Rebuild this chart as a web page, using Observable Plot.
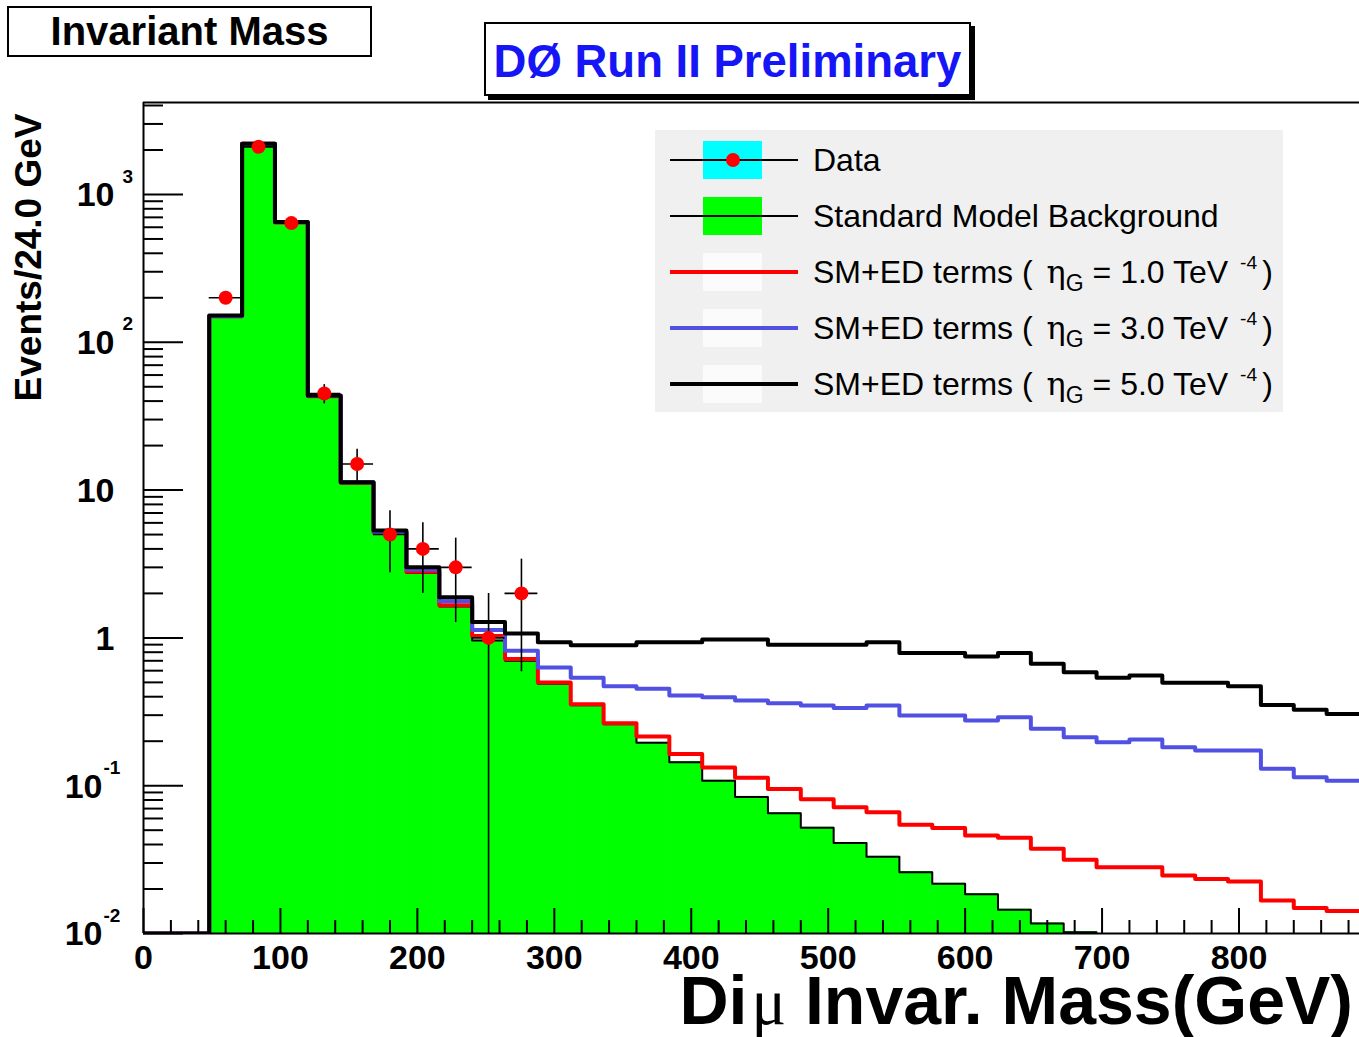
<!DOCTYPE html>
<html>
<head>
<meta charset="utf-8">
<script src="https://cdn.jsdelivr.net/npm/d3@7"></script>
<script src="https://cdn.jsdelivr.net/npm/@observablehq/plot@0.6"></script>
<style>
  body { margin: 0; background: #fff; }
  #wrap { position: relative; width: 1359px; height: 1037px; overflow: hidden; background: #fff;
          font-family: "Liberation Sans", Arial, Helvetica, sans-serif; }
  #plot { position: absolute; left: 0; top: 0; }
  .tbox { position: absolute; background: #fff; border: 2px solid #000; box-sizing: border-box;
          display: flex; align-items: center; justify-content: center; font-weight: bold; white-space: nowrap; }
  #legend { position: absolute; left: 655px; top: 130px; width: 628px; height: 282px; background: #f0f0f0; }
  .lg-box { position: absolute; left: 48px; width: 59px; height: 38px; }
  .lg-line { position: absolute; left: 15px; width: 128px; }
  .lg-dot { position: absolute; left: 71px; width: 14px; height: 14px; border-radius: 50%; background: #ff0000; }
  .lg-text { position: absolute; left: 158px; font-size: 32px; line-height: 32px; white-space: nowrap; color: #000; }
  .lg-text sub { font-size: 0.72em; vertical-align: -0.35em; line-height: 0; }
  .lg-text sup { font-size: 0.6em; vertical-align: 0.75em; line-height: 0; margin-left: 12px; margin-right: 5px; }
  .eta { font-family: "DejaVu Serif", "Liberation Serif", serif; margin-left: 14px; }
  #xlabel { position: absolute; right: 6px; top: 980px; font-size: 68px; line-height: 40px; font-weight: bold; white-space: nowrap; }
  #xlabel .mu { font-family: "Liberation Serif", serif; font-weight: normal; font-size: 0.95em; margin: 0 0 0 4px; }
</style>
</head>
<body>
<div id="wrap">
  <div id="plot"></div>
  <div class="tbox" id="title1" style="left:7px;top:6px;width:365px;height:51px;font-size:40px;"></div>
  <div class="tbox" id="title2" style="left:484px;top:22px;width:487px;height:74px;font-size:45.5px;color:#1515f5;box-shadow:4px 4px 0 #000;padding-top:6px;"></div>
  <div id="legend"></div>
  <div id="xlabel"></div>
</div>
<script>
// ---------------- data ----------------
const binEdges = [0, 24, 48, 72, 96, 120, 144, 168, 192, 216, 240, 264, 288, 312, 336, 360, 384, 408, 432,
                  456, 480, 504, 528, 552, 576, 600, 624, 648, 672, 696, 720, 744, 768, 792, 816, 840, 864, 888];

// Standard Model background (events / 24 GeV), bins from 0 GeV; falls below 1e-2 after 696 GeV
const smBackground = [0, 0, 150, 2200, 645, 43, 11.1, 5.1, 2.75, 1.63, 0.96, 0.70, 0.49, 0.35, 0.26, 0.195,
                      0.144, 0.108, 0.084, 0.065, 0.052, 0.041, 0.033, 0.026, 0.0217, 0.0184, 0.0145, 0.0117, 0.0102];

// SM + extra-dimension terms
const edEta1 = [0, 0, 150, 2200, 646, 43.2, 11.2, 5.15, 2.8, 1.66, 1.03, 0.72, 0.50, 0.355, 0.265, 0.215, 0.164,
                0.133, 0.113, 0.095, 0.081, 0.0715, 0.066, 0.0545, 0.0518, 0.046, 0.0444, 0.0374, 0.0315, 0.0281,
                0.0281, 0.0247, 0.0234, 0.0225, 0.0167, 0.0149, 0.0142];
const edEta3 = [0, 0, 150, 2200, 648, 43.4, 11.3, 5.2, 2.9, 1.77, 1.13, 0.82, 0.63, 0.537, 0.47, 0.453, 0.407,
                0.397, 0.377, 0.361, 0.349, 0.336, 0.349, 0.298, 0.298, 0.276, 0.29, 0.243, 0.213, 0.197, 0.205,
                0.182, 0.173, 0.173, 0.13, 0.114, 0.108];
const edEta5 = [0, 0, 152, 2203, 650, 43.7, 11.3, 5.33, 3.0, 1.88, 1.28, 1.07, 0.935, 0.89, 0.89, 0.935, 0.935,
                0.975, 0.975, 0.90, 0.90, 0.90, 0.935, 0.79, 0.79, 0.748, 0.79, 0.668, 0.586, 0.537, 0.557, 0.497,
                0.497, 0.471, 0.352, 0.326, 0.306];

// Data points (bin centres), counts and errors
const dataMass = [60, 84, 108, 132, 156, 180, 204, 228, 252, 276];
const dataCounts = [200, 2100, 640, 45, 15, 5, 4, 3, 1, 2];
const dataErrors = [14.1, 45.8, 25.3, 6.7, 3.9, 2.24, 2.0, 1.73, 1.0, 1.41];
const binHalfWidth = 12;

// axes
const xTickValues = [0, 100, 200, 300, 400, 500, 600, 700, 800];
const xTickLabels = ["0", "100", "200", "300", "400", "500", "600", "700", "800"];
const yTickValues = [0.01, 0.1, 1, 10, 100, 1000];
const yTickBase = ["10", "10", "1", "10", "10", "10"];
const yTickExp = ["-2", "-1", "", "", "2", "3"];

const titleText = "Invariant Mass";
const bannerText = "DØ Run II Preliminary";
const yLabel = "Events/24.0 GeV";
const xLabelParts = ["Di", "μ", " Invar. Mass(GeV)"];
const etaValues = ["1.0", "3.0", "5.0"];
const legendLabels = ["Data", "Standard Model Background"].concat(etaValues.map(v => `SM+ED terms ( η_G = ${v} TeV^-4)`));

// colours
const cGreen = "#00ff00", cRed = "#ff0000", cBlue = "#5050e2", cBlack = "#000000", cCyan = "#00ffff";

// ---------------- build ----------------
const W = 1359, H = 1037, mL = 143, mT = 102, mB = 104, mR = 0;
const innerW = W - mL - mR, innerH = H - mT - mB;
const xMax = 888, yMin = 0.01, yMax = 4190;
const fl = v => Math.max(v, yMin);

function steps(values) {
  const pts = [];
  values.forEach((v, i) => {
    pts.push({x: binEdges[i], y: fl(v)});
    pts.push({x: binEdges[i + 1], y: fl(v)});
  });
  return pts;
}
const bgBins = smBackground.map((v, i) => ({x1: binEdges[i], x2: binEdges[i + 1], y: v})).filter(d => d.y > 0);
const dataRows = dataMass.map((m, i) => ({x: m, y: dataCounts[i], e: dataErrors[i]}));

const xMinor = d3.range(20, xMax, 20).filter(v => v % 100 !== 0);
const yMinor = yTickValues.flatMap(d => [2, 3, 4, 5, 6, 7, 8, 9].map(k => +(k * d).toPrecision(3))).filter(v => v < yMax);

const font = "Liberation Sans, Arial, Helvetica, sans-serif";
const tickLabelMarks = yTickValues.map((t, i) => {
  const neg = yTickExp[i].startsWith("-");
  const marks = [Plot.text([t], {y: d => d, text: () => yTickBase[i], frameAnchor: "left", textAnchor: "end",
    dx: neg ? -41 : -29, dy: 1, fontSize: 34, fontWeight: "bold", fontFamily: font, fill: "#000"})];
  if (yTickExp[i]) marks.push(Plot.text([t], {y: d => d, text: () => yTickExp[i], frameAnchor: "left", textAnchor: "start",
    dx: neg ? -40 : -21, dy: -18, fontSize: 19, fontWeight: "bold", fontFamily: font, fill: "#000"}));
  return marks;
}).flat();

const chart = Plot.plot({
  width: W, height: H,
  marginLeft: mL, marginTop: mT, marginBottom: mB, marginRight: mR,
  x: {domain: [0, xMax], axis: null},
  y: {type: "log", domain: [yMin, yMax], axis: null},
  style: {background: "transparent", overflow: "visible"},
  marks: [
    Plot.rect(bgBins, {x1: "x1", x2: "x2", y1: yMin, y2: "y", fill: cGreen, stroke: cGreen, strokeWidth: 1, clip: true}),
    Plot.line(steps(smBackground), {x: "x", y: "y", stroke: cBlack, strokeWidth: 2, clip: true}),
    Plot.line(steps(edEta1), {x: "x", y: "y", stroke: cRed, strokeWidth: 4, clip: true}),
    Plot.line(steps(edEta3), {x: "x", y: "y", stroke: cBlue, strokeWidth: 4, clip: true}),
    Plot.line(steps(edEta5), {x: "x", y: "y", stroke: cBlack, strokeWidth: 4, clip: true}),
    Plot.ruleX(dataRows, {x: "x", y1: d => fl(d.y - d.e), y2: d => d.y + d.e, stroke: cBlack, strokeWidth: 1.6, clip: true}),
    Plot.ruleY(dataRows, {y: "y", x1: d => d.x - binHalfWidth, x2: d => d.x + binHalfWidth, stroke: cBlack, strokeWidth: 1.6, clip: true}),
    Plot.dot(dataRows, {x: "x", y: "y", r: 7, fill: cRed, stroke: "none", clip: true}),
    // ticks (inward, ROOT style)
    Plot.ruleX(xTickValues, {x: d => d, insetTop: innerH - 25, stroke: "#000", strokeWidth: 2}),
    Plot.ruleX(xMinor, {x: d => d, insetTop: innerH - 13, stroke: "#000", strokeWidth: 2}),
    Plot.ruleY(yTickValues, {y: d => d, insetRight: innerW - 40, stroke: "#000", strokeWidth: 2}),
    Plot.ruleY(yMinor, {y: d => d, insetRight: innerW - 20, stroke: "#000", strokeWidth: 2}),
    // axis lines: left, bottom, top (right edge falls outside the picture)
    Plot.ruleX([0], {stroke: "#000", strokeWidth: 2}),
    Plot.ruleY([yMin, yMax], {stroke: "#000", strokeWidth: 2}),
    // tick labels
    Plot.text(xTickValues, {x: d => d, text: (d, i) => xTickLabels[i], frameAnchor: "bottom", dy: 35,
      fontSize: 34, fontWeight: "bold", fontFamily: font, fill: "#000"}),
    ...tickLabelMarks,
    // y axis title
    Plot.text([yLabel], {text: d => d, frameAnchor: "top-left", rotate: -90, textAnchor: "end",
      dx: -129, dy: 11, fontSize: 37, fontWeight: "bold", fontFamily: font, fill: "#000"})
  ]
});
document.getElementById("plot").appendChild(chart);

// titles
document.getElementById("title1").textContent = titleText;
document.getElementById("title2").textContent = bannerText;
document.getElementById("xlabel").innerHTML =
  `${xLabelParts[0]}<span class="mu">${xLabelParts[1]}</span>${xLabelParts[2]}`;

// legend
const legend = document.getElementById("legend");
const rowStyles = [
  {box: cCyan, line: cBlack, lw: 2, dot: true},
  {box: cGreen, line: cBlack, lw: 2},
  {box: "#fbfbfb", line: cRed, lw: 4},
  {box: "#fbfbfb", line: cBlue, lw: 4},
  {box: "#fbfbfb", line: cBlack, lw: 4}
];
function labelHTML(s) {
  const m = s.match(/^(.*)\( η_G = (.*) TeV\^(.*)\)$/);
  if (!m) return s;
  return `${m[1]}(<span class="eta">η</span><sub>G</sub>&nbsp;= ${m[2]} TeV<sup>${m[3]}</sup>)`;
}
legendLabels.forEach((lab, i) => {
  const cy = 30 + 56 * i;
  const st = rowStyles[i];
  const box = document.createElement("div");
  box.className = "lg-box"; box.style.top = (cy - 19) + "px"; box.style.background = st.box;
  legend.appendChild(box);
  const line = document.createElement("div");
  line.className = "lg-line"; line.style.top = (cy - st.lw / 2) + "px"; line.style.height = st.lw + "px";
  line.style.background = st.line;
  legend.appendChild(line);
  if (st.dot) {
    const dot = document.createElement("div");
    dot.className = "lg-dot"; dot.style.top = (cy - 7) + "px";
    legend.appendChild(dot);
  }
  const t = document.createElement("div");
  t.className = "lg-text"; t.style.top = (cy - 16) + "px"; t.innerHTML = labelHTML(lab);
  legend.appendChild(t);
});
</script>
</body>
</html>
